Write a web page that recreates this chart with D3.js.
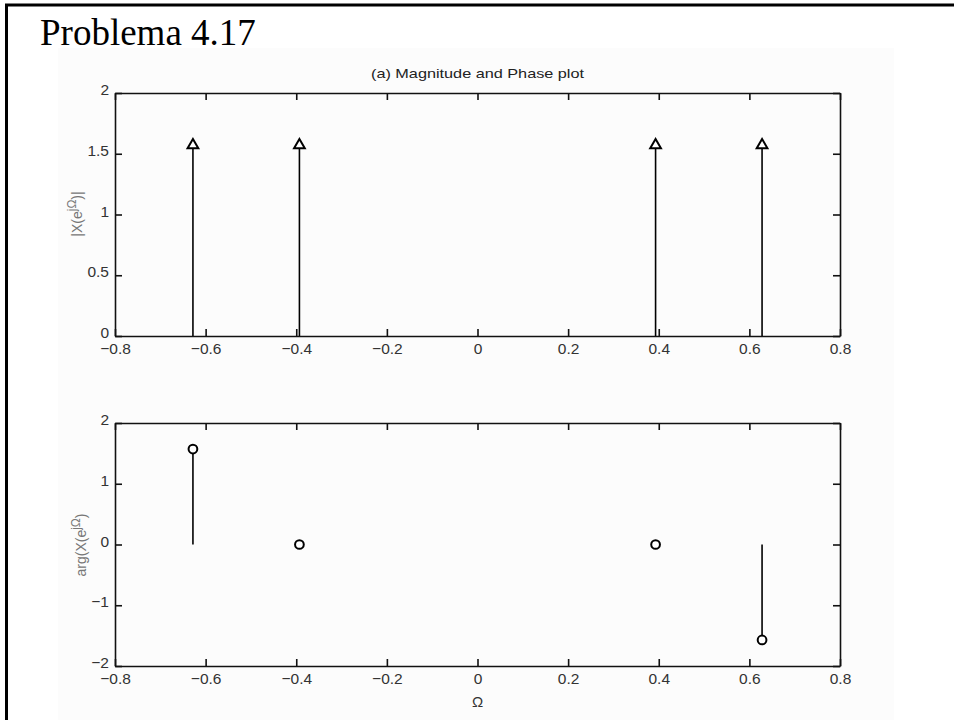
<!DOCTYPE html>
<html lang="en">
<head>
<meta charset="UTF-8">
<title>Problema 4.17</title>
<script src="https://cdn.jsdelivr.net/npm/d3@7"></script>
<style>
  body { margin: 0; background: #fff; }
  .tick text { font-family: "Liberation Sans", Arial, sans-serif; font-size: 15.5px; fill: #333; }
  .axis path, .axis line { stroke: #111; stroke-width: 1.6; }
</style>
</head>
<body>
<div id="output"></div>
<script>

// stem positions (rad/sample) and values
var omega = [-0.628, -0.393, 0.393, 0.628];
var magnitude = [1.571, 1.571, 1.571, 1.571];
var phase = [1.571, 0, 0, -1.571];

var xTicks = [-0.8, -0.6, -0.4, -0.2, 0, 0.2, 0.4, 0.6, 0.8];
var magTicks = [0, 0.5, 1, 1.5, 2];
var phaseTicks = [-2, -1, 0, 1, 2];

var w = 954, h = 720;

var svg = d3.select("#output")
        .append("svg")
        .attr("width", w)
        .attr("height", h)
        .style("display", "block");

// figure background and page frame (only left and top edges visible)
svg.append("rect")
        .attr("x", 58).attr("y", 48)
        .attr("width", 836).attr("height", 672)
        .attr("fill", "#fcfcfc");
svg.append("rect")
        .attr("x", 6.5).attr("y", 5)
        .attr("width", 1000).attr("height", 800)
        .attr("fill", "none")
        .attr("stroke", "#000")
        .attr("stroke-width", 3);

svg.append("text")
        .attr("x", 40).attr("y", 45)
        .attr("font-family", "'Liberation Serif', 'Times New Roman', serif")
        .attr("font-size", 37)
        .attr("fill", "#000")
        .text("Problema 4.17");

var left = 115, right = 840;
var xScale = d3.scaleLinear().domain([-0.8, 0.8]).range([left, right]);

function fmt(d) {
    return d3.format("")(d).replace("-", "\u2212");
}

function drawPanel(top, bottom, yDomain, yTicks, values, marker) {
    var yScale = d3.scaleLinear().domain(yDomain).range([bottom, top]);
    var g = svg.append("g");

    // box axes, ticks pointing inward
    g.append("g").attr("class", "axis")
            .attr("transform", "translate(0," + bottom + ")")
            .call(d3.axisBottom(xScale).tickValues(xTicks).tickFormat(fmt).tickSizeInner(-7).tickSizeOuter(0).tickPadding(7));
    g.append("g").attr("class", "axis")
            .attr("transform", "translate(0," + top + ")")
            .call(d3.axisTop(xScale).tickValues(xTicks).tickFormat("").tickSizeInner(-7).tickSizeOuter(0));
    g.append("g").attr("class", "axis y-left")
            .attr("transform", "translate(" + left + ",0)")
            .call(d3.axisLeft(yScale).tickValues(yTicks).tickFormat(fmt).tickSizeInner(-7).tickSizeOuter(0).tickPadding(6));
    g.append("g").attr("class", "axis")
            .attr("transform", "translate(" + right + ",0)")
            .call(d3.axisRight(yScale).tickValues(yTicks).tickFormat("").tickSizeInner(-7).tickSizeOuter(0));

    // matlab puts the y labels a touch above their ticks
    g.selectAll(".y-left .tick text").attr("dy", "0.1em");

    var data = omega.map(function(o, i) { return { x: o, y: values[i] }; });

    g.selectAll("line.stem")
            .data(data)
            .enter().append("line")
            .attr("class", "stem")
            .attr("x1", function(d) { return xScale(d.x); })
            .attr("x2", function(d) { return xScale(d.x); })
            .attr("y1", yScale(0))
            .attr("y2", function(d) { return yScale(d.y); })
            .attr("stroke", "#000")
            .attr("stroke-width", 1.6);

    var sym = marker === "triangle" ? d3.symbolTriangle : d3.symbolCircle;
    var size = marker === "triangle" ? 50 : 60;
    g.selectAll("path.mark")
            .data(data)
            .enter().append("path")
            .attr("class", "mark")
            .attr("d", d3.symbol().type(sym).size(size))
            .attr("transform", function(d) { return "translate(" + xScale(d.x) + "," + yScale(d.y) + ")"; })
            .attr("fill", "#fff")
            .attr("stroke", "#000")
            .attr("stroke-width", 2);

    return g;
}

drawPanel(93, 336, [0, 2], magTicks, magnitude, "triangle");
drawPanel(423, 666, [-2, 2], phaseTicks, phase, "circle");

var labelFont = "'Liberation Sans', Arial, sans-serif";

// title, slightly stretched horizontally like the scanned figure
svg.append("text")
        .attr("transform", "translate(" + (left + right) / 2 + ",78) scale(1.25,1)")
        .attr("text-anchor", "middle")
        .attr("font-family", labelFont)
        .attr("font-size", 13)
        .attr("fill", "#222")
        .text("(a) Magnitude and Phase plot");

svg.append("text")
        .attr("x", (left + right) / 2).attr("y", 707)
        .attr("text-anchor", "middle")
        .attr("font-family", labelFont)
        .attr("font-size", 15)
        .attr("fill", "#333")
        .text("\u03a9");

function yLabel(cx, cy, pre, post) {
    var t = svg.append("text")
            .attr("transform", "translate(" + cx + "," + cy + ") rotate(-90)")
            .attr("text-anchor", "middle")
            .attr("font-family", labelFont)
            .attr("font-size", 14)
            .attr("fill", "#777");
    t.append("tspan").text(pre);
    t.append("tspan").attr("dy", -6).attr("font-size", 12).text("j\u03a9");
    t.append("tspan").attr("dy", 6).text(post);
}
yLabel(82, 214, "|X(e", ")|");
yLabel(86, 545, "arg(X(e", ")");

</script>
</body>
</html>
